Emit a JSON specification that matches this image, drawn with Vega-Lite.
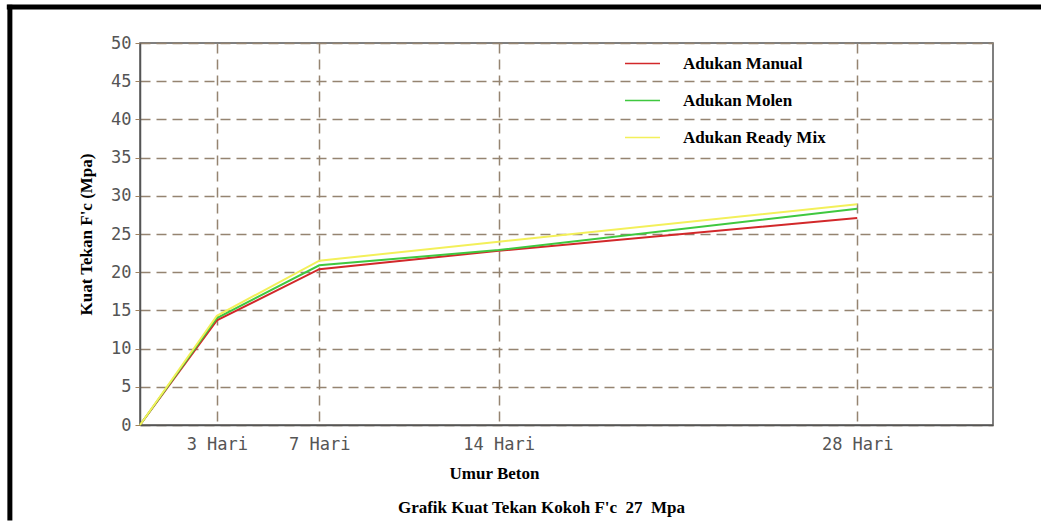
{
  "$schema": "https://vega.github.io/schema/vega-lite/v6.json",
  "width": 853,
  "height": 382,
  "autosize": "none",
  "padding": {"left": 140, "top": 43, "right": 48, "bottom": 97},
  "background": "white",
  "title": {
    "text": "Grafik Kuat Tekan Kokoh F'c\u00a0 27\u00a0 Mpa",
    "orient": "bottom",
    "anchor": "middle",
    "dx": -25,
    "offset": -23,
    "font": "Liberation Serif",
    "fontWeight": "bold",
    "fontSize": 17,
    "color": "black"
  },
  "layer": [
    {
      "data": {"values": [
        {"hari": 0, "kuat": 0, "adukan": "Adukan Manual"},
        {"hari": 3, "kuat": 13.7, "adukan": "Adukan Manual"},
        {"hari": 7, "kuat": 20.4, "adukan": "Adukan Manual"},
        {"hari": 14, "kuat": 22.8, "adukan": "Adukan Manual"},
        {"hari": 28, "kuat": 27.1, "adukan": "Adukan Manual"},
        {"hari": 0, "kuat": 0, "adukan": "Adukan Molen"},
        {"hari": 3, "kuat": 14.0, "adukan": "Adukan Molen"},
        {"hari": 7, "kuat": 20.9, "adukan": "Adukan Molen"},
        {"hari": 14, "kuat": 22.9, "adukan": "Adukan Molen"},
        {"hari": 28, "kuat": 28.3, "adukan": "Adukan Molen"},
        {"hari": 0, "kuat": 0, "adukan": "Adukan Ready Mix"},
        {"hari": 3, "kuat": 14.3, "adukan": "Adukan Ready Mix"},
        {"hari": 7, "kuat": 21.5, "adukan": "Adukan Ready Mix"},
        {"hari": 14, "kuat": 24.0, "adukan": "Adukan Ready Mix"},
        {"hari": 28, "kuat": 28.9, "adukan": "Adukan Ready Mix"}
      ]},
      "mark": {"type": "line", "strokeWidth": 2},
      "encoding": {
        "x": {
          "field": "hari",
          "type": "quantitative",
          "scale": {"domain": [0, 33.3], "nice": false, "zero": false},
          "axis": {
            "values": [3, 7, 14, 28],
            "labelExpr": "datum.value + ' Hari'",
            "labelFont": "DejaVu Sans Mono",
            "labelFontSize": 17,
            "labelColor": "#555",
            "labelPadding": 11,
            "labelOverlap": false,
            "ticks": false,
            "domainColor": "#555",
            "domainWidth": 1.5,
            "grid": true,
            "title": "Umur Beton",
            "titleFont": "Liberation Serif",
            "titleFontWeight": "bold",
            "titleFontSize": 17,
            "titleColor": "black",
            "titleX": 354,
            "titleY": 53,
            "titleBaseline": "alphabetic"
          }
        },
        "y": {
          "field": "kuat",
          "type": "quantitative",
          "scale": {"domain": [0, 50], "nice": false},
          "axis": {
            "values": [0, 5, 10, 15, 20, 25, 30, 35, 40, 45, 50],
            "labelOverlap": false,
            "labelFont": "DejaVu Sans Mono",
            "labelFontSize": 17,
            "labelColor": "#555",
            "labelPadding": 4,
            "tickSize": 5,
            "tickColor": "#a0825f",
            "domainColor": "#555",
            "domainWidth": 1.5,
            "grid": true,
            "title": "Kuat Tekan F'c (Mpa)",
            "titleFont": "Liberation Serif",
            "titleFontWeight": "bold",
            "titleFontSize": 17,
            "titleColor": "black",
            "titlePadding": 15
          }
        },
        "color": {
          "field": "adukan",
          "type": "nominal",
          "scale": {
            "domain": ["Adukan Manual", "Adukan Molen", "Adukan Ready Mix"],
            "range": ["#d2282a", "#3fc83f", "#f3f05a"]
          },
          "legend": {
            "orient": "none",
            "legendX": 484,
            "legendY": 2,
            "title": null,
            "padding": 0,
            "symbolType": "stroke",
            "symbolSize": 1225,
            "symbolStrokeWidth": 1.5,
            "labelFont": "Liberation Serif",
            "labelFontWeight": "bold",
            "labelFontSize": 17,
            "labelColor": "black",
            "labelOffset": 22,
            "rowPadding": 10
          }
        }
      }
    },
    {
      "data": {"values": [{}]},
      "mark": {"type": "rule", "color": "black", "strokeWidth": 5, "clip": false},
      "encoding": {
        "x": {
          "datum": -5.2,
          "type": "quantitative",
          "scale": {"domain": [0, 33.3], "nice": false, "zero": false},
          "axis": {
            "values": [3, 7, 14, 28],
            "labelExpr": "datum.value + ' Hari'",
            "labelFont": "DejaVu Sans Mono",
            "labelFontSize": 17,
            "labelColor": "#555",
            "labelPadding": 11,
            "labelOverlap": false,
            "ticks": false,
            "domainColor": "#555",
            "domainWidth": 1.5,
            "grid": true,
            "title": "Umur Beton",
            "titleFont": "Liberation Serif",
            "titleFontWeight": "bold",
            "titleFontSize": 17,
            "titleColor": "black",
            "titleX": 354,
            "titleY": 53,
            "titleBaseline": "alphabetic"
          }
        },
        "x2": {"datum": 36},
        "y": {
          "datum": 54.7,
          "type": "quantitative",
          "scale": {"domain": [0, 50], "nice": false},
          "axis": {
            "values": [0, 5, 10, 15, 20, 25, 30, 35, 40, 45, 50],
            "labelOverlap": false,
            "labelFont": "DejaVu Sans Mono",
            "labelFontSize": 17,
            "labelColor": "#555",
            "labelPadding": 4,
            "tickSize": 5,
            "tickColor": "#a0825f",
            "domainColor": "#555",
            "domainWidth": 1.5,
            "grid": true,
            "title": "Kuat Tekan F'c (Mpa)",
            "titleFont": "Liberation Serif",
            "titleFontWeight": "bold",
            "titleFontSize": 17,
            "titleColor": "black",
            "titlePadding": 15
          }
        }
      }
    },
    {
      "data": {"values": [{}]},
      "mark": {"type": "rule", "color": "black", "strokeWidth": 5, "clip": false},
      "encoding": {
        "x": {
          "datum": -5.08,
          "type": "quantitative",
          "scale": {"domain": [0, 33.3], "nice": false, "zero": false},
          "axis": {
            "values": [3, 7, 14, 28],
            "labelExpr": "datum.value + ' Hari'",
            "labelFont": "DejaVu Sans Mono",
            "labelFontSize": 17,
            "labelColor": "#555",
            "labelPadding": 11,
            "labelOverlap": false,
            "ticks": false,
            "domainColor": "#555",
            "domainWidth": 1.5,
            "grid": true,
            "title": "Umur Beton",
            "titleFont": "Liberation Serif",
            "titleFontWeight": "bold",
            "titleFontSize": 17,
            "titleColor": "black",
            "titleX": 354,
            "titleY": 53,
            "titleBaseline": "alphabetic"
          }
        },
        "y": {
          "datum": 55,
          "type": "quantitative",
          "scale": {"domain": [0, 50], "nice": false},
          "axis": {
            "values": [0, 5, 10, 15, 20, 25, 30, 35, 40, 45, 50],
            "labelOverlap": false,
            "labelFont": "DejaVu Sans Mono",
            "labelFontSize": 17,
            "labelColor": "#555",
            "labelPadding": 4,
            "tickSize": 5,
            "tickColor": "#a0825f",
            "domainColor": "#555",
            "domainWidth": 1.5,
            "grid": true,
            "title": "Kuat Tekan F'c (Mpa)",
            "titleFont": "Liberation Serif",
            "titleFontWeight": "bold",
            "titleFontSize": 17,
            "titleColor": "black",
            "titlePadding": 15
          }
        },
        "y2": {"datum": -12.5}
      }
    }
  ],
  "config": {
    "view": {"stroke": "#555", "strokeWidth": 1.5},
    "axis": {"gridColor": "#958471", "gridDash": [10, 6], "gridWidth": 1.5}
  }
}
